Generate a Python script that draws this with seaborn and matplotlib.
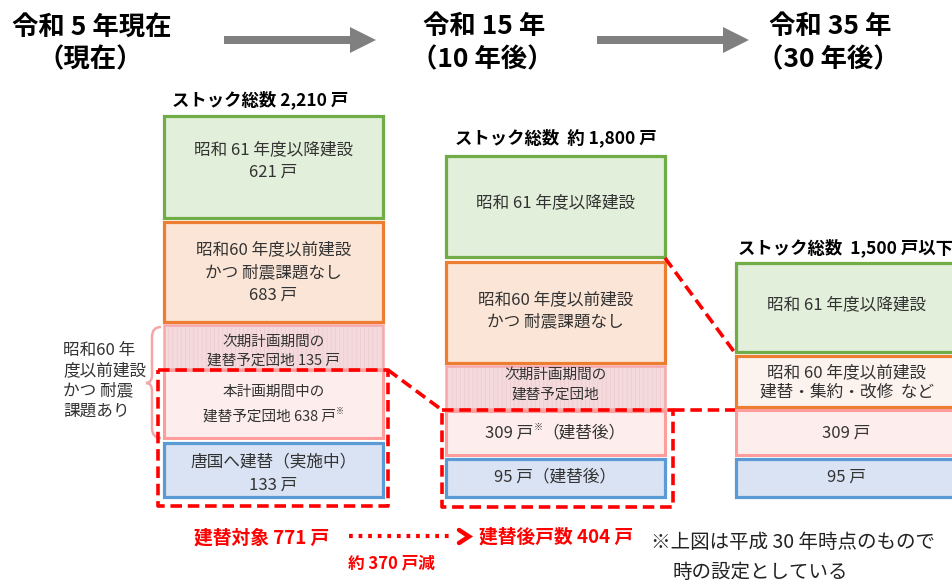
import matplotlib
matplotlib.use("Agg")
import matplotlib.pyplot as plt
import seaborn as sns
import pandas as pd
from matplotlib.patches import FancyArrow, PathPatch
from matplotlib.path import Path

sns.set_theme(style="white")
plt.rcParams['font.family'] = ['Noto Sans CJK JP', 'DejaVu Sans']
plt.rcParams['hatch.linewidth'] = 0.45

# ---------------- data ----------------
periods = ["令和 5 年現在", "令和 15 年", "令和 35 年"]
period_notes = ["（現在）", "（10 年後）", "（30 年後）"]
stock_totals = ["ストック総数 2,210 戸", "ストック総数  約 1,800 戸", "ストック総数  1,500 戸以下"]
units_now = [621, 683, 135, 638, 133]      # 昭和61以降 / 昭和60以前 耐震なし / 次期 / 本計画 / 唐国
units_after = [309, 95]                    # 建替後 (本計画, 唐国)
target_units = 771
after_units = 404
reduction = 370
bracket_label = ["昭和60 年", "度以前建設", "かつ 耐震", "課題あり"]
footnote = ["※上図は平成 30 年時点のもので", "時の設定としている"]

# ---------------- layout (pixel space) ----------------
W, H = 952, 583
col_x = [(164, 383), (446, 665), (736, 957)]
TXT = '#333333'
RED = '#ff0000'
styles = {
    'green':  dict(fc='#e2efda', ec='#70ad47', lw=2.3),
    'orange': dict(fc='#fbe5d6', ec='#ed7d31', lw=2.3),
    'orange_light': dict(fc='#fcf3ef', ec='#ed7d31', lw=2.3),
    'hatch':  dict(fc='#f4dadd', ec='#f6a8ab', lw=1.8),
    'pink':   dict(fc='#fdeded', ec='#ff9d9d', lw=2.2),
    'blue':   dict(fc='#dae3f3', ec='#5b9bd5', lw=2.3),
}

S = '※'
boxes = [
    (0, 'green', 116, 218, [[("昭和 61 年度以降建設",)], [(f"{units_now[0]} 戸",)]], [150, 172], 12),
    (0, 'orange', 222, 322, [[("昭和60 年度以前建設",)], [("かつ 耐震課題なし",)], [(f"{units_now[1]} 戸",)]], [250, 273, 295], 12),
    (0, 'hatch', 325, 369, [[("次期計画期間の",)], [(f"建替予定団地 {units_now[2]} 戸",)]], [342, 361], 10.5),
    (0, 'pink', 370, 438, [[("本計画期間中の",)], [(f"建替予定団地 {units_now[3]} 戸",), (S, 'sup')]], [392, 417], 10.5),
    (0, 'blue', 443, 497, [[("唐国へ建替（実施中）",)], [(f"{units_now[4]} 戸",)]], [462, 485], 12),
    (1, 'green', 156, 257, [[("昭和 61 年度以降建設",)]], [203], 12),
    (1, 'orange', 262, 363, [[("昭和60 年度以前建設",)], [("かつ 耐震課題なし",)]], [300, 322], 12),
    (1, 'hatch', 366, 409, [[("次期計画期間の",)], [("建替予定団地",)]], [375, 395], 10.5),
    (1, 'pink', 411, 455, [[(f"{units_after[0]} 戸",), (S, 'sup'), ("（建替後）",)]], [433], 12),
    (1, 'blue', 459, 497, [[(f"{units_after[1]} 戸（建替後）",)]], [477], 12),
    (2, 'green', 263, 352, [[("昭和 61 年度以降建設",)]], [305], 12),
    (2, 'orange_light', 356, 407, [[("昭和 60 年度以前建設",)], [("建替・集約・改修  など",)]], [373, 392], 12),
    (2, 'pink', 410, 455, [[(f"{units_after[0]} 戸",)]], [433], 12),
    (2, 'blue', 459, 497, [[(f"{units_after[1]} 戸",)]], [477], 12),
]

fig = plt.figure(figsize=(W / 100, H / 100), dpi=100)
ax = fig.add_axes([0, 0, 1, 1])
ax.set_xlim(0, W)
ax.set_ylim(H, 0)
ax.axis('off')
fig.canvas.draw()
renderer = fig.canvas.get_renderer()


def runs_text(x, y, runs, size, color=TXT, weight='normal'):
    """Place a centered line made of several runs (superscript ※ supported)."""
    arts = []
    widths = []
    for r in runs:
        s = r[0]
        sup = len(r) > 1 and r[1] == 'sup'
        fs = size * 0.55 if sup else size
        t = ax.text(0, y - (6 if sup else 0), s, fontsize=fs, color=color,
                    ha='left', va='center', weight=weight)
        w = t.get_window_extent(renderer).width
        arts.append(t)
        widths.append(w)
    total = sum(widths)
    cx = x - total / 2
    for t, w in zip(arts, widths):
        t.set_x(cx)
        cx += w


df = pd.DataFrame(boxes, columns=['col', 'style', 'top', 'bottom', 'lines', 'ys', 'fs'])
for _, b in df.iterrows():
    x0, x1 = col_x[b['col']]
    st = styles[b['style']]
    cx = (x0 + x1) / 2
    if b['style'] == 'hatch':
        ax.bar(cx, b['bottom'] - b['top'], bottom=b['top'], width=x1 - x0,
               color=st['fc'], edgecolor='#ecc9cd', hatch='||||', linewidth=0)
        ax.bar(cx, b['bottom'] - b['top'], bottom=b['top'], width=x1 - x0,
               fill=False, edgecolor=st['ec'], linewidth=st['lw'])
    else:
        ax.bar(cx, b['bottom'] - b['top'], bottom=b['top'], width=x1 - x0,
               color=st['fc'], edgecolor=st['ec'], linewidth=st['lw'])
    for runs, y in zip(b['lines'], b['ys']):
        runs_text(cx, y, runs, b['fs'])

# headers
head_x = [92, 484, 830]
for hx, p, n in zip(head_x, periods, period_notes):
    ax.text(hx, 27, p, fontsize=19, weight='bold', ha='center', va='center', color='black')
    ax.text(hx - 2, 60, n, fontsize=19, weight='bold', ha='center', va='center', color='black')

# gray arrows
for xa, xb in [(224, 376), (597, 749)]:
    ax.add_patch(FancyArrow(xa, 40, xb - xa, 0, width=8, head_width=26, head_length=26,
                            length_includes_head=True, color='#808080', lw=0))

# stock total labels
stock_pos = [(260, 100, 'center'), (556, 138, 'center'), (738, 248, 'left')]
for (sx, sy, ha), s in zip(stock_pos, stock_totals):
    ax.text(sx, sy, s, fontsize=12.5, weight='bold', ha=ha, va='center', color='black')

# red dashed frames and connectors
dash = dict(color=RED, lw=2.6, ls=(0, (3.2, 1.6)), solid_capstyle='butt')
ax.plot([158, 388, 388, 158, 158], [370, 370, 506, 506, 370], **dash)
ax.plot([442, 673, 673, 442, 442], [410, 410, 507, 507, 410], **dash)
ax.plot([388, 442], [370, 410], **dash)
ax.plot([673, 735], [410, 410], **dash)
ax.plot([665, 735], [258, 353], **dash)

# bracket
verts = [(161, 327), (152, 327), (152, 337), (152, 375), (152, 383), (146, 383),
         (152, 383), (152, 391), (152, 428), (152, 438), (161, 438)]
codes = [Path.MOVETO, Path.CURVE3, Path.CURVE3, Path.LINETO, Path.CURVE3, Path.CURVE3,
         Path.CURVE3, Path.CURVE3, Path.LINETO, Path.CURVE3, Path.CURVE3]
ax.add_patch(PathPatch(Path(verts, codes), fill=False, ec='#f4a7a7', lw=1.8))
for i, s in enumerate(bracket_label):
    ax.text(63, 351 + i * 20, s, fontsize=12, ha='left', va='center', color=TXT)

# bottom red annotations
ax.text(262, 538, f"建替対象 {target_units} 戸", fontsize=13.5, weight='bold', color=RED,
        ha='center', va='center')
ax.plot([349, 452], [536, 536], color=RED, lw=3, ls=(0, (0.9, 1.4)))
ax.plot([459, 469, 459], [530, 536.5, 543], color=RED, lw=3.2, solid_joinstyle='miter')
ax.text(556, 537, f"建替後戸数 {after_units} 戸", fontsize=13.5, weight='bold', color=RED,
        ha='center', va='center')
ax.text(391, 563, f"約 {reduction} 戸減", fontsize=12, weight='bold', color=RED,
        ha='center', va='center')

# footnote
ax.text(651, 543, footnote[0], fontsize=14, ha='left', va='center', color='#222222')
ax.text(672, 573, footnote[1], fontsize=14, ha='left', va='center', color='#222222')

sns.despine(ax=ax, left=True, bottom=True)
fig.savefig('out.png', dpi=100)
